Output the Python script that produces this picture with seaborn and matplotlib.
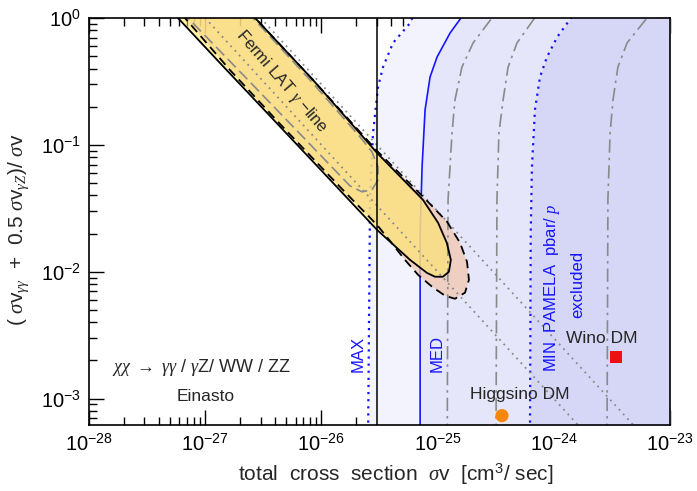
import numpy as np
import matplotlib
matplotlib.use("Agg")
import matplotlib.pyplot as plt
import seaborn as sns
from matplotlib.ticker import FixedLocator, LogLocator, LogFormatterMathtext, NullFormatter

# Style
sns.set_theme(style="ticks")
plt.rcParams['font.family'] = ['Liberation Sans', 'DejaVu Sans']
plt.rcParams['mathtext.fontset'] = 'custom'
plt.rcParams['mathtext.rm'] = 'Liberation Sans'
plt.rcParams['mathtext.it'] = 'Liberation Serif:italic'
plt.rcParams['mathtext.bf'] = 'Liberation Sans:bold'

# ---- data ----
# PAMELA pbar/p exclusion boundaries (bottom -> top)
max_x = [2.52e-26, 2.62e-26, 2.78e-26, 3.07e-26, 3.39e-26, 4.13e-26, 5.78e-26, 6.2e-26]
max_y = [5e-4, 0.0369, 0.124, 0.286, 0.411, 0.636, 0.91, 1.05]
med_x = [7.07e-26, 7.07e-26, 7.35e-26, 7.80e-26, 8.61e-26, 9.89e-26, 1.28e-25, 1.65e-25]
med_y = [5e-4, 0.0203, 0.067, 0.189, 0.343, 0.493, 0.762, 1.05]
min_x = [6.23e-25, 6.33e-25, 6.48e-25, 6.88e-25, 7.60e-25, 8.73e-25, 1.07e-24, 1.46e-24]
min_y = [5e-4, 0.0203, 0.067, 0.189, 0.343, 0.493, 0.709, 1.05]

# other halo profiles (gray dash-dot)
dd1_x = [1.21e-25, 1.23e-25, 1.33e-25, 1.41e-25, 1.62e-25, 2.02e-25, 3.05e-25]
dd2_x = [3.18e-25, 3.24e-25, 3.37e-25, 3.66e-25, 4.04e-25, 4.82e-25, 7.1e-25]
dd3_x = [2.87e-24, 2.92e-24, 3.05e-24, 3.23e-24, 3.56e-24, 4.27e-24, 6.6e-24]
dd_y = [5e-4, 0.0369, 0.124, 0.226, 0.411, 0.636, 1.05]

# Fermi LAT gamma-line region (solid outline)
fermi_x = [1.34e-27, 2.69e-27, 8.47e-27, 3.01e-26, 7.48e-26, 1.01e-25, 1.2e-25, 1.30e-25,
           1.25e-25, 1.11e-25, 9.5e-26, 8.1e-26, 5.8e-26, 3.01e-26, 1.19e-26, 3.61e-27,
           1.34e-27, 5.83e-28, 2.86e-28]
fermi_y = [1.99, 1.0, 0.325, 0.0865, 0.0369, 0.0243, 0.0169, 0.0124, 0.0100, 0.00914,
           0.00914, 0.0098, 0.0124, 0.0214, 0.053, 0.169, 0.442, 1.0, 1.99]
# second Fermi region (dashed outline)
fermi2_x = [1.48e-27, 2.69e-27, 8.47e-27, 3.01e-26, 7.80e-26, 1.205e-25, 1.56e-25, 1.79e-25,
            1.86e-25, 1.72e-25, 1.41e-25, 1.16e-25, 8.96e-26, 6.78e-26, 5.14e-26, 3.89e-26,
            3.01e-26, 1.53e-26, 4.41e-27, 1.63e-27, 6.70e-28, 3.35e-28]
fermi2_y = [1.99, 1.0, 0.325, 0.0897, 0.0376, 0.0248, 0.0169, 0.0120, 0.00865, 0.00684,
            0.00613, 0.00647, 0.00762, 0.00947, 0.01265, 0.01754, 0.0234, 0.0442, 0.146,
            0.390, 1.0, 1.99]
# third Fermi region (gray dashed outline)
fermi3_x = [1.34e-27, 2.58e-27, 7.98e-27, 2.15e-26, 2.72e-26, 3.07e-26, 3.07e-26, 2.72e-26,
            2.23e-26, 1.76e-26, 6.55e-27, 2.43e-27, 7.11e-28, 3.48e-28]
fermi3_y = [1.99, 1.0, 0.325, 0.1156, 0.0881, 0.0671, 0.053, 0.0442, 0.0427, 0.0476,
            0.122, 0.313, 1.0, 1.99]

# constant sigma v_gamma gamma lines (two end points each)
diag_x = [[5e-28, 2e-24], [1.5e-27, 6e-24]]
diag_y = [[2.0, 5e-4], [2.0, 5e-4]]

thermal_sv = 3.0e-26

higgsino_x, higgsino_y = [3.58e-25], [7.35e-4]
wino_x, wino_y = [3.43e-24], [2.14e-3]

x_major = [1e-28, 1e-27, 1e-26, 1e-25, 1e-24, 1e-23]
y_major = [1e-3, 1e-2, 1e-1, 1e0]

# ---- figure ----
fig = plt.figure(figsize=(6.97, 4.91), dpi=100)
ax = fig.add_axes([0.1277, 0.1344, 0.8336, 0.8289])
ax.set_xscale('log')
ax.set_yscale('log')
xmax = 1e-23

blue = '#1515ff'
gray = '#8a8a8a'

# shaded exclusion regions
ax.fill_betweenx(max_y, max_x, xmax, color='#f3f3fd', lw=0, zorder=1)
ax.fill_betweenx(med_y, med_x, xmax, color='#e6e6fa', lw=0, zorder=1.1)
ax.fill_betweenx(min_y, min_x, xmax, color='#d6d6f6', lw=0, zorder=1.2)

def curve(x, y, **kw):
    sns.lineplot(x=x, y=y, sort=False, estimator=None, ax=ax, **kw)

curve(max_x, max_y, color=blue, lw=1.6, linestyle=(0, (1, 2.2)), zorder=2)
curve(med_x, med_y, color=blue, lw=1.2, linestyle='-', zorder=2)
curve(min_x, min_y, color=blue, lw=1.6, linestyle=(0, (1, 2.2)), zorder=2)

# Fermi regions
ax.fill(fermi2_x, fermi2_y, color='#f2c8b0', alpha=0.75, lw=0, zorder=3)
ax.fill(fermi_x, fermi_y, color='#ffe85f', alpha=0.55, lw=0, zorder=3.1)
curve(fermi_x, fermi_y, color='black', lw=1.3, linestyle='-', zorder=5)
curve(fermi2_x, fermi2_y, color='black', lw=1.3, linestyle=(0, (5, 3)), zorder=5)
curve(fermi3_x, fermi3_y, color=gray, lw=1.2, linestyle=(0, (7, 3)), zorder=4)

for xs in (dd1_x, dd2_x, dd3_x):
    curve(xs, dd_y, color=gray, lw=1.2, linestyle=(0, (8, 3, 1.5, 3)), zorder=4)

for xs, ys in zip(diag_x, diag_y):
    curve(xs, ys, color=gray, lw=1.3, linestyle=(0, (1, 2.5)), zorder=4.5)

ax.axvline(thermal_sv, color='black', lw=1.1, zorder=5)

# benchmark models
sns.scatterplot(x=higgsino_x, y=higgsino_y, ax=ax, color='#f5870c', s=90,
                marker='o', edgecolor='none', zorder=6, clip_on=False)
sns.scatterplot(x=wino_x, y=wino_y, ax=ax, color='#ee1111', s=70,
                marker='s', edgecolor='none', zorder=6)

# texts
ax.text(4.49e-27, 0.313, 'Fermi LAT $\\gamma$ \u2212line', rotation=-49,
        rotation_mode='anchor', ha='center', va='center', fontsize=12, zorder=7)
ax.text(2.07e-26, 1.63e-3, 'MAX', rotation=90, color=blue, ha='center',
        va='bottom', fontsize=12, zorder=7)
ax.text(9.9e-26, 1.63e-3, 'MED', rotation=90, color=blue, ha='center',
        va='bottom', fontsize=12, zorder=7)
ax.text(9.66e-25, 1.63e-3, 'MIN  PAMELA  pbar/ $p$', rotation=90, color=blue,
        ha='center', va='bottom', fontsize=12, zorder=7)
ax.text(1.61e-24, 7.9e-3, 'excluded', rotation=90, color=blue, ha='center',
        va='center', fontsize=12, zorder=7)
ax.text(9.2e-28, 1.75e-3, '$\\chi\\chi\\ \\rightarrow\\ \\gamma\\gamma$ / $\\gamma$Z/ WW / ZZ',
        ha='center', va='center', fontsize=13, zorder=7)
ax.text(1.0e-27, 1.04e-3, 'Einasto', ha='center', va='center', fontsize=12.5, zorder=7)
ax.text(5.12e-25, 1.07e-3, 'Higgsino DM', ha='center', va='center', fontsize=12.5, zorder=7)
ax.text(2.6e-24, 2.97e-3, 'Wino DM', ha='center', va='center', fontsize=12.5, zorder=7)

# axes
ax.set_xlim(1e-28, xmax)
ax.set_ylim(6.2e-4, 1.0)
ax.xaxis.set_major_locator(FixedLocator(x_major))
ax.yaxis.set_major_locator(FixedLocator(y_major))
ax.xaxis.set_minor_locator(LogLocator(base=10, subs=np.arange(2, 10), numticks=20))
ax.yaxis.set_minor_locator(LogLocator(base=10, subs=np.arange(2, 10), numticks=20))
ax.xaxis.set_major_formatter(LogFormatterMathtext())
ax.yaxis.set_major_formatter(LogFormatterMathtext())
ax.xaxis.set_minor_formatter(NullFormatter())
ax.yaxis.set_minor_formatter(NullFormatter())
ax.tick_params(which='both', direction='in', top=True, right=True, color='black',
               width=1.0, labelsize=14.5, labelcolor='black')
ax.tick_params(which='major', length=11, pad=6)
ax.tick_params(which='minor', length=6)
for s in ax.spines.values():
    s.set_color('black')
    s.set_linewidth(1.2)
    s.set_zorder(8)

ax.set_xlabel('total  cross  section  $\\sigma$v  [cm$^3$/ sec]', fontsize=15)
ax.xaxis.set_label_coords(0.528, -0.09)
ax.set_ylabel('( $\\sigma$v$_{\\gamma\\gamma}$  +  0.5 $\\sigma$v$_{\\gamma Z}$)/ $\\sigma$v',
              fontsize=15)
ax.yaxis.set_label_coords(-0.10, 0.48)

fig.savefig('out.png', dpi=100)
